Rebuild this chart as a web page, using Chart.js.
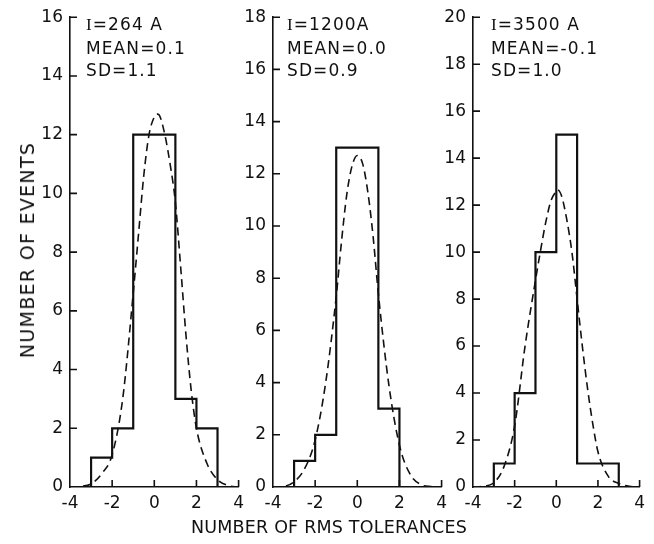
<!DOCTYPE html>
<html>
<head>
<meta charset="utf-8">
<script src="https://cdn.jsdelivr.net/npm/chart.js@4.4.1/dist/chart.umd.min.js"></script>
<style>
  html, body { margin: 0; padding: 0; background: #fff; }
  body { width: 654px; height: 544px; position: relative; overflow: hidden; font-family: "DejaVu Sans", sans-serif; color: #111; }
  .pane { position: absolute; top: 0; height: 544px; }
  .note { position: absolute; font-size: 17px; line-height: 22.5px; letter-spacing: 1.1px; color: #111; white-space: nowrap; }
  .note .ser { font-family: "Liberation Serif", serif; }
  #xtitle { position: absolute; left: 0; width: 654px; top: 517px; text-align: center; font-size: 17.5px; letter-spacing: 0.2px; padding-left: 4px; box-sizing: border-box; }
  #ytitle { position: absolute; left: 27px; top: 250px; transform: translate(-50%, -50%) rotate(-90deg); font-size: 19px; white-space: nowrap; letter-spacing: 1.3px; }
</style>
</head>
<body>
<div class="pane" style="left:10px;width:240px"><canvas id="c1"></canvas></div>
<div class="pane" style="left:213px;width:240px"><canvas id="c2"></canvas></div>
<div class="pane" style="left:413px;width:238px"><canvas id="c3"></canvas></div>

<div class="note" style="left:86px;top:13px"><span class="ser">I</span>=264 A<br>MEAN=0.1<br>SD=1.1</div>
<div class="note" style="left:287px;top:13px"><span class="ser">I</span>=1200A<br>MEAN=0.0<br>SD=0.9</div>
<div class="note" style="left:491px;top:13px"><span class="ser">I</span>=3500 A<br>MEAN=-0.1<br>SD=1.0</div>

<div id="xtitle">NUMBER OF RMS TOLERANCES</div>
<div id="ytitle">NUMBER OF EVENTS</div>

<script>
// ---- data ----
const binEdges = [-3, -2, -1, 0, 1, 2, 3];
const counts264 = [1, 2, 12, 12, 3, 2];
const counts1200 = [1, 2, 13, 13, 3, 0];
const counts3500 = [1, 4, 10, 15, 1, 1];

const yMax264 = 16, yMax1200 = 18, yMax3500 = 20;
const xTicks = [-4, -2, 0, 2, 4];

// dashed fitted curves
const curveX264 = [-4, -3.5, -3, -2.5, -2, -1.5, -1, -0.75, -0.5, -0.25, 0, 0.15, 0.25, 0.5, 0.75, 1, 1.25, 1.5, 1.75, 2, 2.5, 3, 3.5, 4];
const curveY264 = [0, 0.02, 0.1, 0.45, 1.1, 3.0, 6.6, 8.6, 10.6, 12.0, 12.6, 12.7, 12.65, 12.0, 11.0, 9.7, 7.5, 5.2, 3.3, 2.0, 0.8, 0.25, 0.05, 0];

const curveX1200 = [-4, -3.5, -3, -2.5, -2, -1.5, -1, -0.75, -0.5, -0.25, 0, 0.25, 0.5, 0.75, 1, 1.5, 2, 2.5, 3, 3.5, 4];
const curveY1200 = [0, 0.02, 0.2, 0.7, 1.8, 4.0, 7.3, 9.4, 11.2, 12.3, 12.7, 12.4, 11.3, 9.6, 7.4, 3.9, 1.6, 0.5, 0.1, 0.02, 0];

const curveX3500 = [-4, -3.5, -3, -2.5, -2, -1.5, -1, -0.75, -0.5, -0.25, 0, 0.05, 0.25, 0.5, 0.75, 1, 1.25, 1.5, 1.75, 2, 2.5, 3, 3.5, 4];
const curveY3500 = [0, 0.03, 0.18, 0.9, 2.6, 6.0, 8.8, 10.1, 11.3, 12.2, 12.6, 12.66, 12.4, 11.4, 10.0, 8.0, 6.0, 4.2, 2.7, 1.5, 0.45, 0.15, 0.03, 0];

// ---- helpers ----
function stepPoints(edges, counts) {
  const pts = [{x: edges[0], y: 0}];
  counts.forEach((c, i) => pts.push({x: edges[i], y: c}));
  pts.push({x: edges[edges.length - 1], y: 0});
  return pts;
}
function curvePoints(xs, ys) { return xs.map((x, i) => ({x, y: ys[i]})); }

const inwardTicks = {
  id: 'inwardTicks',
  afterDatasetsDraw(chart) {
    const ctx = chart.ctx, xs = chart.scales.x, ys = chart.scales.y;
    const L = 7;
    ctx.save();
    ctx.strokeStyle = '#111';
    ctx.lineWidth = 1.6;
    ctx.beginPath();
    ys.ticks.forEach(t => {
      if (t.value === 0) return;
      const py = ys.getPixelForValue(t.value);
      ctx.moveTo(xs.left, py); ctx.lineTo(xs.left + L, py);
    });
    xs.ticks.forEach(t => {
      if (t.value === -4) return;
      const px = xs.getPixelForValue(t.value);
      ctx.moveTo(px, ys.bottom); ctx.lineTo(px, ys.bottom - L);
    });
    ctx.stroke();
    ctx.restore();
  }
};

function makeChart(id, counts, cx, cy, yMax, padRight) {
  const tickFont = {family: 'DejaVu Sans', size: 17};
  return new Chart(document.getElementById(id), {
    type: 'line',
    data: {
      datasets: [
        {
          data: stepPoints(binEdges, counts),
          stepped: 'before',
          borderColor: '#111',
          borderWidth: 2.2,
          pointRadius: 0,
          fill: false
        },
        {
          data: curvePoints(cx, cy),
          borderColor: '#111',
          borderWidth: 1.6,
          borderDash: [8, 5],
          pointRadius: 0,
          cubicInterpolationMode: 'monotone',
          fill: false
        }
      ]
    },
    options: {
      responsive: true,
      maintainAspectRatio: false,
      animation: false,
      events: [],
      layout: {padding: {top: 15, right: padRight, left: 0, bottom: 0}},
      plugins: {legend: {display: false}, tooltip: {enabled: false}},
      scales: {
        x: {
          type: 'linear', min: -4, max: 4,
          afterBuildTicks: s => { s.ticks = xTicks.map(v => ({value: v})); },
          grid: {display: false, drawTicks: false, tickLength: 0},
          border: {display: true, color: '#111', width: 1.6},
          ticks: {font: tickFont, color: '#111', padding: 6, maxRotation: 0,
                  callback: v => String(v)},
          afterFit: s => { s.height = 57; }
        },
        y: {
          type: 'linear', min: 0, max: yMax,
          ticks: {stepSize: 2, font: tickFont, color: '#111', padding: 7},
          grid: {display: false, drawTicks: false, tickLength: 0},
          border: {display: true, color: '#111', width: 1.6},
          afterFit: s => { s.width = 60; }
        }
      }
    },
    plugins: [inwardTicks]
  });
}

makeChart('c1', counts264, curveX264, curveY264, yMax264, 10);
makeChart('c2', counts1200, curveX1200, curveY1200, yMax1200, 10);
makeChart('c3', counts3500, curveX3500, curveY3500, yMax3500, 10);
</script>
</body>
</html>
